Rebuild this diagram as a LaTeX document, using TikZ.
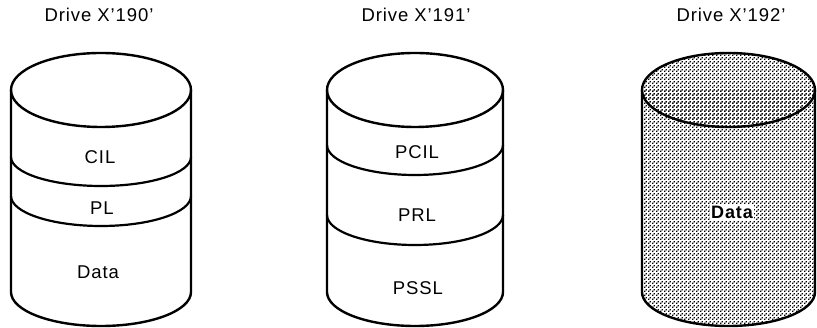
\documentclass[tikz,border=0pt]{standalone}
\usepackage{fontspec}
\setmainfont{Liberation Sans}[LetterSpace=5]
\usetikzlibrary{patterns}
\pgfdeclarepatternformonly{halftone}{\pgfpointorigin}{\pgfpoint{4pt}{4pt}}{\pgfpoint{4pt}{4pt}}{%
  \pgfpathrectangle{\pgfpointorigin}{\pgfpoint{1.6pt}{1.6pt}}%
  \pgfpathrectangle{\pgfpoint{2pt}{2pt}}{\pgfpoint{1.6pt}{1.6pt}}%
  \pgfusepath{fill}}
\tikzset{
  edge/.style={line width=2.4pt, line join=round, line cap=round},
  band/.style={line width=2.2pt, line cap=round},
  lab/.style={font=\fontsize{18.5}{20}\selectfont, inner sep=0pt},
  boldlab/.style={font=\fontsize{18}{20}\selectfont\bfseries, fill=white, inner sep=1.5pt},
}
\begin{document}
\begin{tikzpicture}[x=1pt,y=1pt]
\useasboundingbox (0,0) rectangle (817,328);
% ---------- Drive X'190'
\node[lab] (t1) at (99,313) {Drive X'190'};
\draw[edge] (11,238) -- (11,36) arc[start angle=180,end angle=360,x radius=90,y radius=34] -- (191,238);
\draw[edge] (101,238) ellipse[x radius=90,y radius=37];
\draw[band] (11,171) arc[start angle=180,end angle=360,x radius=90,y radius=29];
\draw[band] (11,132) arc[start angle=180,end angle=360,x radius=90,y radius=30];
\node[lab] (cil) at (100,171) {CIL};
\node[lab] (pl) at (102,120) {PL};
\node[lab] (d1) at (98,56) {Data};
% ---------- Drive X'191'
\node[lab] (t2) at (416,313) {Drive X'191'};
\draw[edge] (327,238) -- (327,36) arc[start angle=180,end angle=360,x radius=88,y radius=34] -- (503,238);
\draw[edge] (415,238) ellipse[x radius=88,y radius=37];
\draw[band] (327,183) arc[start angle=180,end angle=360,x radius=88,y radius=30];
\draw[band] (327,113) arc[start angle=180,end angle=360,x radius=88,y radius=30];
\node[lab] (pcil) at (417,176) {PCIL};
\node[lab] (prl) at (417,113) {PRL};
\node[lab] (pssl) at (418,40) {PSSL};
% ---------- Drive X'192'
\node[lab] (t3) at (731,313) {Drive X'192'};
\fill[pattern=halftone] (642,238) -- (642,36) arc[start angle=180,end angle=360,x radius=86.5,y radius=34] -- (815,238) -- cycle;
\fill[pattern=halftone] (728.5,238) ellipse[x radius=86.5,y radius=37];
\draw[edge] (642,238) -- (642,36) arc[start angle=180,end angle=360,x radius=86.5,y radius=34] -- (815,238);
\draw[edge] (728.5,238) ellipse[x radius=86.5,y radius=37];
\node[boldlab] (d3) at (732,116) {Data};
\end{tikzpicture}
\end{document}
